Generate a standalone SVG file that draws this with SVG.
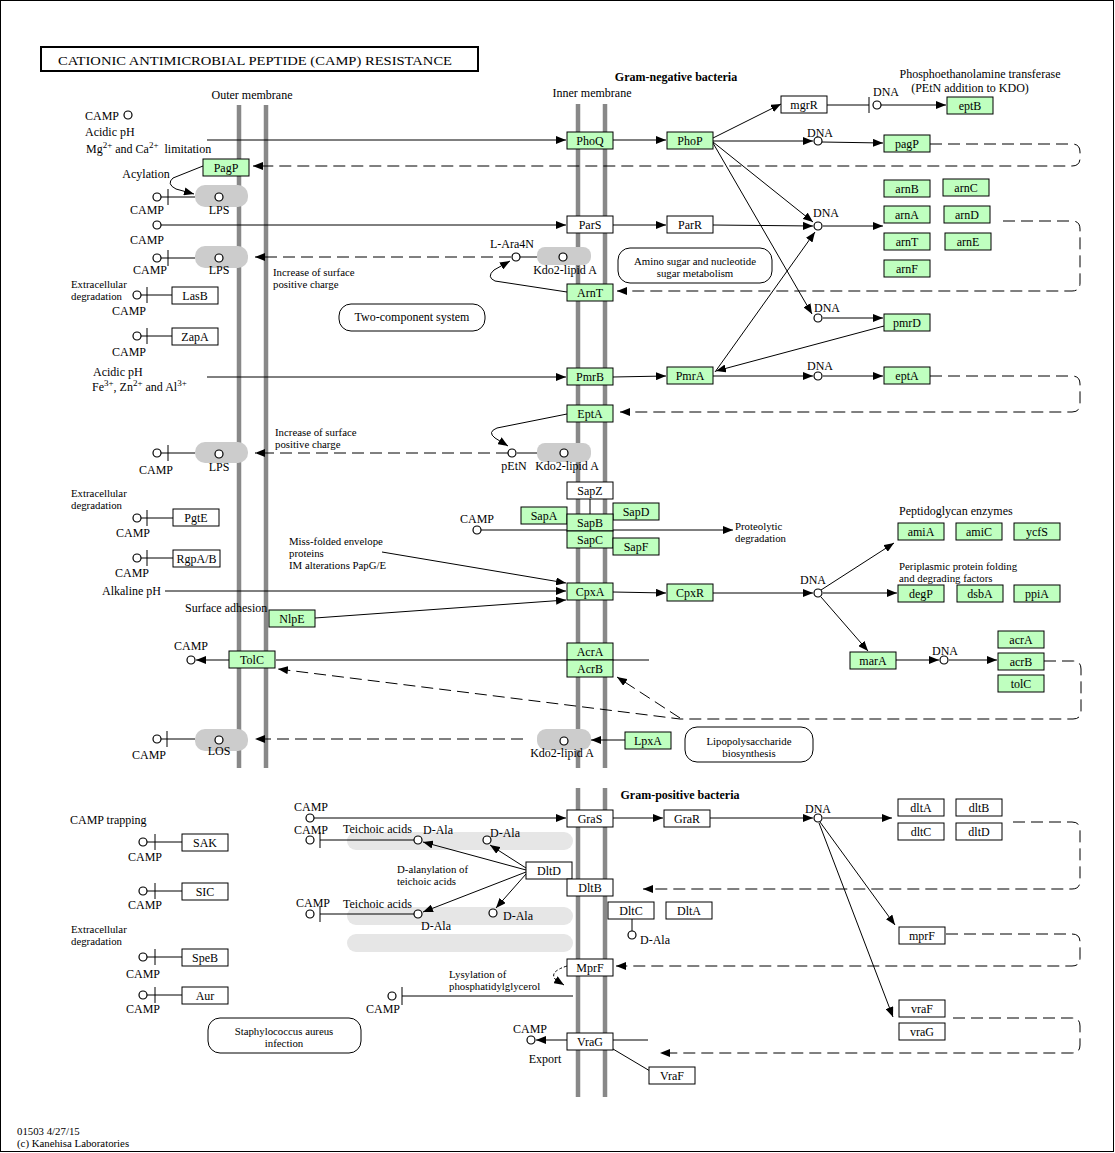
<svg xmlns="http://www.w3.org/2000/svg" width="1115" height="1153" viewBox="0 0 1115 1153">
<style>
.g{fill:#bfffbf;stroke:#000;stroke-width:1}
.w{fill:#fff;stroke:#000;stroke-width:1}
.t{font-family:"Liberation Serif",serif;font-size:12px;fill:#000}
.s{font-size:10.8px}
.c{text-anchor:middle}
.e{text-anchor:end}
.b{font-weight:bold}
.ln{stroke:#000;stroke-width:1;fill:none}
.d{stroke-dasharray:12,6}
.cp{fill:#fff;stroke:#000;stroke-width:1.2}
.m{stroke:#888;stroke-width:4.5}
.lps{fill:#ccc}
.tb{fill:#e6e6e6}
.rb{fill:#fff;stroke:#000;stroke-width:1}
</style>
<defs>
<marker id="a" markerUnits="userSpaceOnUse" markerWidth="11" markerHeight="8" refX="10" refY="4" orient="auto"><path d="M0,0 L10,4 L0,8 z" fill="#000"/></marker>
</defs>
<rect x="0.5" y="0.5" width="1113" height="1151" fill="#fff" stroke="#000" stroke-width="1"/>
<g id="title"><rect x="41" y="47" width="437" height="24" fill="#fff" stroke="#000" stroke-width="2"/><text class="t" x="58" y="64.5" font-size="14" textLength="394" lengthAdjust="spacingAndGlyphs">CATIONIC  ANTIMICROBIAL  PEPTIDE  (CAMP)  RESISTANCE</text></g>

<g id="membranes">
<line class="m" x1="239" y1="105" x2="239" y2="768"/>
<line class="m" x1="266" y1="105" x2="266" y2="768"/>
<line class="m" x1="578" y1="104" x2="578" y2="768"/>
<line class="m" x1="605" y1="104" x2="605" y2="768"/>
<line class="m" x1="578" y1="788" x2="578" y2="1097"/>
<line class="m" x1="605" y1="788" x2="605" y2="1097"/>
</g>

<g id="compounds-bg">
<rect class="lps" x="195" y="185" width="53" height="22" rx="10"/>
<rect class="lps" x="195" y="246" width="53" height="22" rx="10"/>
<rect class="lps" x="195" y="442" width="53" height="21" rx="10"/>
<rect class="lps" x="195" y="729" width="53" height="22" rx="10"/>
<rect class="lps" x="537" y="247" width="54" height="18" rx="8"/>
<rect class="lps" x="537" y="443" width="54" height="19" rx="8"/>
<rect class="lps" x="537" y="729" width="54" height="21" rx="9"/>
<rect class="tb" x="347" y="832" width="226" height="18" rx="9"/>
<rect class="tb" x="347" y="907" width="226" height="18" rx="9"/>
<rect class="tb" x="347" y="934" width="226" height="18" rx="9"/>
</g>

<g id="maps">
<rect class="rb" x="339" y="304" width="146" height="27" rx="12"/>
<rect class="rb" x="618" y="248" width="154" height="35" rx="12"/>
<rect class="rb" x="685" y="727" width="128" height="35" rx="12"/>
<rect class="rb" x="208" y="1018" width="153" height="35" rx="12"/>
</g>

<g id="connectors">
<line class="ln" x1="207" y1="140" x2="566" y2="140" marker-end="url(#a)"/>
<line class="ln" x1="613" y1="140" x2="666" y2="140" marker-end="url(#a)"/>
<line class="ln" x1="713" y1="138" x2="781" y2="104" marker-end="url(#a)"/>
<line class="ln" x1="713" y1="141" x2="813" y2="141" marker-end="url(#a)"/>
<line class="ln" x1="822" y1="142" x2="883" y2="143" marker-end="url(#a)"/>
<line class="ln" x1="713" y1="142" x2="813" y2="222" marker-end="url(#a)"/>
<line class="ln" x1="713" y1="143" x2="812" y2="314" marker-end="url(#a)"/>
<line class="ln" x1="827" y1="105" x2="869" y2="105"/>
<line class="ln" x1="869" y1="97" x2="869" y2="113"/>
<line class="ln" x1="881" y1="105" x2="946" y2="105" marker-end="url(#a)"/>
<path class="ln d" d="M930,144 H1072 Q1080,144 1080,152 V158 Q1080,166 1072,166 H253" marker-end="url(#a)"/>
<path class="ln" d="M203,166 L173,178 Q166,184 176,189 L194,194" marker-end="url(#a)"/>
<line class="ln" x1="161" y1="225" x2="566" y2="225" marker-end="url(#a)"/>
<line class="ln" x1="613" y1="225" x2="666" y2="225" marker-end="url(#a)"/>
<line class="ln" x1="713" y1="225" x2="813" y2="226" marker-end="url(#a)"/>
<line class="ln" x1="823" y1="226" x2="883" y2="226" marker-end="url(#a)"/>
<path class="ln d" d="M1003,221 H1072 Q1080,221 1080,229 V283 Q1080,291 1072,291 H617" marker-end="url(#a)"/>
<path class="ln" d="M567,292 L495,281 Q486,277 494,270 L510,261" marker-end="url(#a)"/>
<path class="ln d" d="M511,257 H255" marker-end="url(#a)"/>
<line class="ln" x1="520" y1="257" x2="537" y2="257"/>
<line class="ln" x1="207" y1="377" x2="566" y2="377" marker-end="url(#a)"/>
<line class="ln" x1="613" y1="377" x2="666" y2="376" marker-end="url(#a)"/>
<line class="ln" x1="713" y1="376" x2="813" y2="376" marker-end="url(#a)"/>
<line class="ln" x1="823" y1="376" x2="883" y2="376" marker-end="url(#a)"/>
<line class="ln" x1="715" y1="372" x2="815" y2="232" marker-end="url(#a)"/>
<line class="ln" x1="884" y1="326" x2="716" y2="371" marker-end="url(#a)"/>
<line class="ln" x1="823" y1="318" x2="883" y2="318" marker-end="url(#a)"/>
<path class="ln d" d="M930,376 H1072 Q1080,376 1080,384 V404 Q1080,412 1072,412 H620" marker-end="url(#a)"/>
<path class="ln" d="M567,414 L497,428 Q487,432 495,438 L508,446" marker-end="url(#a)"/>
<line class="ln" x1="517" y1="453" x2="537" y2="453"/>
<path class="ln d" d="M508,453 H255" marker-end="url(#a)"/>
<line class="ln" x1="481" y1="530" x2="733" y2="530" marker-end="url(#a)"/>
<line class="ln" x1="590" y1="498" x2="590" y2="514"/>
<line class="ln" x1="382" y1="552" x2="566" y2="583" marker-end="url(#a)"/>
<line class="ln" x1="165" y1="591" x2="566" y2="591" marker-end="url(#a)"/>
<line class="ln" x1="315" y1="618" x2="566" y2="600" marker-end="url(#a)"/>
<line class="ln" x1="613" y1="592" x2="666" y2="593" marker-end="url(#a)"/>
<line class="ln" x1="713" y1="593" x2="813" y2="593" marker-end="url(#a)"/>
<line class="ln" x1="823" y1="593" x2="897" y2="593" marker-end="url(#a)"/>
<line class="ln" x1="821" y1="590" x2="894" y2="543" marker-end="url(#a)"/>
<line class="ln" x1="821" y1="597" x2="868" y2="651" marker-end="url(#a)"/>
<line class="ln" x1="896" y1="660" x2="939" y2="660" marker-end="url(#a)"/>
<line class="ln" x1="949" y1="660" x2="997" y2="660" marker-end="url(#a)"/>
<path class="ln d" d="M1044,661 H1073 Q1081,661 1081,669 V711 Q1081,719 1073,719 H680 L278,669" marker-end="url(#a)"/>
<path class="ln d" d="M680,718 L617,677" marker-end="url(#a)"/>
<line class="ln" x1="229" y1="660" x2="196" y2="660" marker-end="url(#a)"/>
<line class="ln" x1="276" y1="660" x2="649" y2="660"/>
<line class="ln" x1="625" y1="740" x2="591" y2="740" marker-end="url(#a)"/>
<path class="ln d" d="M523,739 H255" marker-end="url(#a)"/>
<line class="ln" x1="161" y1="197" x2="195" y2="197"/><line class="ln" x1="168" y1="189" x2="168" y2="205"/>
<line class="ln" x1="161" y1="258" x2="195" y2="258"/><line class="ln" x1="168" y1="250" x2="168" y2="266"/>
<line class="ln" x1="161" y1="453" x2="195" y2="453"/><line class="ln" x1="168" y1="445" x2="168" y2="461"/>
<line class="ln" x1="161" y1="739" x2="195" y2="739"/><line class="ln" x1="167" y1="731" x2="167" y2="747"/>
<line class="ln" x1="141" y1="295" x2="172" y2="295"/><line class="ln" x1="147" y1="287" x2="147" y2="303"/>
<line class="ln" x1="141" y1="336" x2="172" y2="336"/><line class="ln" x1="147" y1="328" x2="147" y2="344"/>
<line class="ln" x1="141" y1="518" x2="173" y2="518"/><line class="ln" x1="147" y1="510" x2="147" y2="526"/>
<line class="ln" x1="141" y1="558" x2="173" y2="558"/><line class="ln" x1="147" y1="550" x2="147" y2="566"/>
<line class="ln" x1="314" y1="818" x2="566" y2="818" marker-end="url(#a)"/>
<line class="ln" x1="613" y1="818" x2="663" y2="818" marker-end="url(#a)"/>
<line class="ln" x1="710" y1="818" x2="813" y2="818" marker-end="url(#a)"/>
<line class="ln" x1="823" y1="818" x2="892" y2="818" marker-end="url(#a)"/>
<line class="ln" x1="820" y1="822" x2="895" y2="925" marker-end="url(#a)"/>
<line class="ln" x1="819" y1="823" x2="893" y2="1017" marker-end="url(#a)"/>
<path class="ln d" d="M1013,822 H1072 Q1080,822 1080,830 V881 Q1080,889 1072,889 H643" marker-end="url(#a)"/>
<path class="ln d" d="M946,934 H1072 Q1080,934 1080,942 V958 Q1080,966 1072,966 H616" marker-end="url(#a)"/>
<path class="ln d" d="M953,1018 H1072 Q1080,1018 1080,1026 V1045 Q1080,1053 1072,1053 H660" marker-end="url(#a)"/>
<line class="ln" x1="320" y1="840" x2="414" y2="840"/><line class="ln" x1="320" y1="832" x2="320" y2="848"/>
<line class="ln" x1="320" y1="914" x2="414" y2="914"/><line class="ln" x1="320" y1="906" x2="320" y2="922"/>
<line class="ln" x1="526" y1="870" x2="423" y2="842" marker-end="url(#a)"/>
<line class="ln" x1="526" y1="868" x2="490" y2="845" marker-end="url(#a)"/>
<line class="ln" x1="526" y1="872" x2="423" y2="912" marker-end="url(#a)"/>
<line class="ln" x1="526" y1="874" x2="496" y2="908" marker-end="url(#a)"/>
<line class="ln" x1="632" y1="918" x2="632" y2="931"/>
<path class="ln" d="M567,966 Q548,972 556,980 L564,985" stroke-dasharray="3,2" marker-end="url(#a)"/>
<line class="ln" x1="402" y1="996" x2="573" y2="996"/><line class="ln" x1="402" y1="987" x2="402" y2="1005"/>
<line class="ln" x1="567" y1="1040" x2="536" y2="1040" marker-end="url(#a)"/>
<line class="ln" x1="613" y1="1040" x2="648" y2="1040"/>
<line class="ln" x1="613" y1="1049" x2="650" y2="1071"/>
<line class="ln" x1="147" y1="842" x2="182" y2="842"/><line class="ln" x1="155" y1="834" x2="155" y2="850"/>
<line class="ln" x1="147" y1="891" x2="182" y2="891"/><line class="ln" x1="155" y1="883" x2="155" y2="899"/>
<line class="ln" x1="147" y1="957" x2="182" y2="957"/><line class="ln" x1="155" y1="949" x2="155" y2="965"/>
<line class="ln" x1="147" y1="995" x2="182" y2="995"/><line class="ln" x1="155" y1="987" x2="155" y2="1003"/>
</g>

<g id="nodes">
<g id="PagP"><rect class="g" x="203" y="159" width="46" height="17"/><text class="t c" x="226" y="171.5">PagP</text></g>
<g id="PhoQ"><rect class="g" x="567" y="132" width="46" height="17"/><text class="t c" x="590" y="144.5">PhoQ</text></g>
<g id="PhoP"><rect class="g" x="667" y="132" width="46" height="17"/><text class="t c" x="690" y="144.5">PhoP</text></g>
<g id="mgrR"><rect class="w" x="781" y="96" width="46" height="17"/><text class="t c" x="804" y="108.5">mgrR</text></g>
<g id="eptB"><rect class="g" x="947" y="97" width="46" height="17"/><text class="t c" x="970" y="109.5">eptB</text></g>
<g id="pagP"><rect class="g" x="884" y="135" width="46" height="17"/><text class="t c" x="907" y="147.5">pagP</text></g>
<g id="arnB"><rect class="g" x="884" y="180" width="46" height="17"/><text class="t c" x="907" y="192.5">arnB</text></g>
<g id="arnC"><rect class="g" x="943" y="179" width="46" height="17"/><text class="t c" x="966" y="191.5">arnC</text></g>
<g id="arnA"><rect class="g" x="884" y="206" width="46" height="17"/><text class="t c" x="907" y="218.5">arnA</text></g>
<g id="arnD"><rect class="g" x="944" y="206" width="46" height="17"/><text class="t c" x="967" y="218.5">arnD</text></g>
<g id="arnT"><rect class="g" x="884" y="233" width="46" height="17"/><text class="t c" x="907" y="245.5">arnT</text></g>
<g id="arnE"><rect class="g" x="945" y="233" width="46" height="17"/><text class="t c" x="968" y="245.5">arnE</text></g>
<g id="arnF"><rect class="g" x="884" y="260" width="46" height="17"/><text class="t c" x="907" y="272.5">arnF</text></g>
<g id="ParS"><rect class="w" x="567" y="216" width="46" height="17"/><text class="t c" x="590" y="228.5">ParS</text></g>
<g id="ParR"><rect class="w" x="667" y="216" width="46" height="17"/><text class="t c" x="690" y="228.5">ParR</text></g>
<g id="ArnT"><rect class="g" x="567" y="284" width="46" height="17"/><text class="t c" x="590" y="296.5">ArnT</text></g>
<g id="LasB"><rect class="w" x="172" y="287" width="46" height="17"/><text class="t c" x="195" y="299.5">LasB</text></g>
<g id="ZapA"><rect class="w" x="172" y="328" width="46" height="17"/><text class="t c" x="195" y="340.5">ZapA</text></g>
<g id="pmrD"><rect class="g" x="884" y="314" width="46" height="17"/><text class="t c" x="907" y="326.5">pmrD</text></g>
<g id="PmrB"><rect class="g" x="567" y="368" width="46" height="17"/><text class="t c" x="590" y="380.5">PmrB</text></g>
<g id="PmrA"><rect class="g" x="667" y="367" width="46" height="17"/><text class="t c" x="690" y="379.5">PmrA</text></g>
<g id="eptA"><rect class="g" x="884" y="367" width="46" height="17"/><text class="t c" x="907" y="379.5">eptA</text></g>
<g id="EptA"><rect class="g" x="567" y="405" width="46" height="17"/><text class="t c" x="590" y="417.5">EptA</text></g>
<g id="SapZ"><rect class="w" x="567" y="482" width="46" height="17"/><text class="t c" x="590" y="494.5">SapZ</text></g>
<g id="SapA"><rect class="g" x="521" y="507" width="46" height="17"/><text class="t c" x="544" y="519.5">SapA</text></g>
<g id="SapD"><rect class="g" x="613" y="503" width="46" height="17"/><text class="t c" x="636" y="515.5">SapD</text></g>
<g id="SapB"><rect class="g" x="567" y="514" width="46" height="17"/><text class="t c" x="590" y="526.5">SapB</text></g>
<g id="SapC"><rect class="g" x="567" y="531" width="46" height="17"/><text class="t c" x="590" y="543.5">SapC</text></g>
<g id="SapF"><rect class="g" x="613" y="538" width="46" height="17"/><text class="t c" x="636" y="550.5">SapF</text></g>
<g id="PgtE"><rect class="w" x="173" y="509" width="46" height="17"/><text class="t c" x="196" y="521.5">PgtE</text></g>
<g id="RgpAB"><rect class="w" x="173" y="550" width="47" height="17"/><text class="t c" x="196.5" y="562.5">RgpA/B</text></g>
<g id="amiA"><rect class="g" x="898" y="523" width="46" height="17"/><text class="t c" x="921" y="535.5">amiA</text></g>
<g id="amiC"><rect class="g" x="956" y="523" width="46" height="17"/><text class="t c" x="979" y="535.5">amiC</text></g>
<g id="ycfS"><rect class="g" x="1014" y="523" width="46" height="17"/><text class="t c" x="1037" y="535.5">ycfS</text></g>
<g id="CpxA"><rect class="g" x="567" y="583" width="46" height="17"/><text class="t c" x="590" y="595.5">CpxA</text></g>
<g id="CpxR"><rect class="g" x="667" y="584" width="46" height="17"/><text class="t c" x="690" y="596.5">CpxR</text></g>
<g id="degP"><rect class="g" x="898" y="585" width="46" height="17"/><text class="t c" x="921" y="597.5">degP</text></g>
<g id="dsbA"><rect class="g" x="957" y="585" width="46" height="17"/><text class="t c" x="980" y="597.5">dsbA</text></g>
<g id="ppiA"><rect class="g" x="1014" y="585" width="46" height="17"/><text class="t c" x="1037" y="597.5">ppiA</text></g>
<g id="NlpE"><rect class="g" x="269" y="610" width="46" height="17"/><text class="t c" x="292" y="622.5">NlpE</text></g>
<g id="TolC"><rect class="g" x="229" y="651" width="46" height="17"/><text class="t c" x="252" y="663.5">TolC</text></g>
<g id="AcrA"><rect class="g" x="567" y="643" width="46" height="17"/><text class="t c" x="590" y="655.5">AcrA</text></g>
<g id="AcrB"><rect class="g" x="567" y="660" width="46" height="17"/><text class="t c" x="590" y="672.5">AcrB</text></g>
<g id="marA"><rect class="g" x="850" y="652" width="46" height="17"/><text class="t c" x="873" y="664.5">marA</text></g>
<g id="acrA"><rect class="g" x="998" y="631" width="46" height="17"/><text class="t c" x="1021" y="643.5">acrA</text></g>
<g id="acrB"><rect class="g" x="998" y="653" width="46" height="17"/><text class="t c" x="1021" y="665.5">acrB</text></g>
<g id="tolC"><rect class="g" x="998" y="675" width="46" height="17"/><text class="t c" x="1021" y="687.5">tolC</text></g>
<g id="LpxA"><rect class="g" x="625" y="732" width="46" height="17"/><text class="t c" x="648" y="744.5">LpxA</text></g>
<g id="GraS"><rect class="w" x="567" y="810" width="46" height="17"/><text class="t c" x="590" y="822.5">GraS</text></g>
<g id="GraR"><rect class="w" x="664" y="810" width="46" height="17"/><text class="t c" x="687" y="822.5">GraR</text></g>
<g id="dltA"><rect class="w" x="898" y="799" width="46" height="17"/><text class="t c" x="921" y="811.5">dltA</text></g>
<g id="dltB"><rect class="w" x="956" y="799" width="46" height="17"/><text class="t c" x="979" y="811.5">dltB</text></g>
<g id="dltC"><rect class="w" x="898" y="823" width="46" height="17"/><text class="t c" x="921" y="835.5">dltC</text></g>
<g id="dltD"><rect class="w" x="956" y="823" width="46" height="17"/><text class="t c" x="979" y="835.5">dltD</text></g>
<g id="DltD"><rect class="w" x="526" y="862" width="46" height="17"/><text class="t c" x="549" y="874.5">DltD</text></g>
<g id="DltB"><rect class="w" x="567" y="879" width="46" height="17"/><text class="t c" x="590" y="891.5">DltB</text></g>
<g id="DltC"><rect class="w" x="608" y="902" width="46" height="17"/><text class="t c" x="631" y="914.5">DltC</text></g>
<g id="DltA"><rect class="w" x="666" y="902" width="46" height="17"/><text class="t c" x="689" y="914.5">DltA</text></g>
<g id="mprF"><rect class="w" x="899" y="927" width="46" height="17"/><text class="t c" x="922" y="939.5">mprF</text></g>
<g id="MprF"><rect class="w" x="567" y="959" width="46" height="17"/><text class="t c" x="590" y="971.5">MprF</text></g>
<g id="vraF"><rect class="w" x="899" y="1000" width="46" height="17"/><text class="t c" x="922" y="1012.5">vraF</text></g>
<g id="vraG"><rect class="w" x="899" y="1023" width="46" height="17"/><text class="t c" x="922" y="1035.5">vraG</text></g>
<g id="VraG"><rect class="w" x="567" y="1033" width="46" height="17"/><text class="t c" x="590" y="1045.5">VraG</text></g>
<g id="VraF"><rect class="w" x="649" y="1067" width="46" height="17"/><text class="t c" x="672" y="1079.5">VraF</text></g>
<g id="SAK"><rect class="w" x="182" y="834" width="46" height="17"/><text class="t c" x="205" y="846.5">SAK</text></g>
<g id="SIC"><rect class="w" x="182" y="883" width="46" height="17"/><text class="t c" x="205" y="895.5">SIC</text></g>
<g id="SpeB"><rect class="w" x="182" y="949" width="46" height="17"/><text class="t c" x="205" y="961.5">SpeB</text></g>
<g id="Aur"><rect class="w" x="182" y="987" width="46" height="17"/><text class="t c" x="205" y="999.5">Aur</text></g>
</g>

<g id="circles">
<circle class="cp" cx="128" cy="115" r="4"/>
<circle class="cp" cx="157" cy="197" r="4"/>
<circle class="cp" cx="219" cy="197" r="4"/>
<circle class="cp" cx="157" cy="225" r="4"/>
<circle class="cp" cx="157" cy="258" r="4"/>
<circle class="cp" cx="219" cy="258" r="4"/>
<circle class="cp" cx="137" cy="295" r="4"/>
<circle class="cp" cx="137" cy="336" r="4"/>
<circle class="cp" cx="157" cy="453" r="4"/>
<circle class="cp" cx="219" cy="454" r="4"/>
<circle class="cp" cx="137" cy="518" r="4"/>
<circle class="cp" cx="137" cy="558" r="4"/>
<circle class="cp" cx="191" cy="660" r="4"/>
<circle class="cp" cx="157" cy="739" r="4"/>
<circle class="cp" cx="219" cy="740" r="4"/>
<circle class="cp" cx="516" cy="257" r="4"/>
<circle class="cp" cx="563" cy="257" r="4"/>
<circle class="cp" cx="512" cy="453" r="4"/>
<circle class="cp" cx="564" cy="453" r="4"/>
<circle class="cp" cx="477" cy="530" r="4"/>
<circle class="cp" cx="564" cy="741" r="4"/>
<circle class="cp" cx="877" cy="105" r="4"/>
<circle class="cp" cx="818" cy="141" r="4"/>
<circle class="cp" cx="818" cy="226" r="4"/>
<circle class="cp" cx="818" cy="318" r="4"/>
<circle class="cp" cx="818" cy="376" r="4"/>
<circle class="cp" cx="818" cy="593" r="4"/>
<circle class="cp" cx="944" cy="660" r="4"/>
<circle class="cp" cx="818" cy="818" r="4"/>
<circle class="cp" cx="310" cy="818" r="4"/>
<circle class="cp" cx="310" cy="840" r="4"/>
<circle class="cp" cx="310" cy="914" r="4"/>
<circle class="cp" cx="418" cy="840" r="4"/>
<circle class="cp" cx="487" cy="840" r="4"/>
<circle class="cp" cx="418" cy="914" r="4"/>
<circle class="cp" cx="493" cy="913" r="4"/>
<circle class="cp" cx="632" cy="935" r="4"/>
<circle class="cp" cx="392" cy="996" r="4"/>
<circle class="cp" cx="531" cy="1040" r="4"/>
<circle class="cp" cx="143" cy="842" r="4"/>
<circle class="cp" cx="143" cy="891" r="4"/>
<circle class="cp" cx="143" cy="957" r="4"/>
<circle class="cp" cx="143" cy="995" r="4"/>
</g>

<g id="labels">
<text class="t c" x="252" y="99">Outer membrane</text>
<text class="t c" x="592" y="97">Inner membrane</text>
<text class="t c b" x="676" y="81">Gram-negative bacteria</text>
<text class="t c" x="980" y="78">Phosphoethanolamine transferase</text>
<text class="t c" x="970" y="92">(PEtN addition to KDO)</text>
<text class="t c" x="886" y="96">DNA</text>
<text class="t c" x="820" y="137">DNA</text>
<text class="t c" x="826" y="217">DNA</text>
<text class="t c" x="827" y="312">DNA</text>
<text class="t c" x="820" y="370">DNA</text>
<text class="t c" x="813" y="584">DNA</text>
<text class="t c" x="945" y="655">DNA</text>
<text class="t c" x="818" y="813">DNA</text>
<text class="t" x="85" y="120">CAMP</text>
<text class="t" x="85" y="136">Acidic pH</text>
<text class="t" x="86" y="153" xml:space="preserve">Mg<tspan font-size="9" dy="-5">2+</tspan><tspan dy="5"> and Ca</tspan><tspan font-size="9" dy="-5">2+</tspan><tspan dy="5">  limitation</tspan></text>
<text class="t c" x="146" y="178">Acylation</text>
<text class="t c" x="147" y="214">CAMP</text>
<text class="t c" x="219" y="214">LPS</text>
<text class="t c" x="147" y="244">CAMP</text>
<text class="t c" x="150" y="274">CAMP</text>
<text class="t c" x="219" y="274">LPS</text>
<text class="t s" x="273" y="275.5">Increase of surface</text>
<text class="t s" x="273" y="287.5">positive charge</text>
<text class="t s" x="71" y="287.5">Extracellular</text>
<text class="t s" x="71" y="299.5">degradation</text>
<text class="t c" x="129" y="315">CAMP</text>
<text class="t c" x="129" y="356">CAMP</text>
<text class="t" x="93" y="376">Acidic pH</text>
<text class="t" x="92" y="391">Fe<tspan font-size="9" dy="-5">3+</tspan><tspan dy="5">, Zn</tspan><tspan font-size="9" dy="-5">2+</tspan><tspan dy="5"> and Al</tspan><tspan font-size="9" dy="-5">3+</tspan></text>
<text class="t s" x="275" y="435.5">Increase of surface</text>
<text class="t s" x="275" y="447.5">positive charge</text>
<text class="t c" x="156" y="474">CAMP</text>
<text class="t c" x="219" y="471">LPS</text>
<text class="t s" x="71" y="496.5">Extracellular</text>
<text class="t s" x="71" y="508.5">degradation</text>
<text class="t c" x="133" y="537">CAMP</text>
<text class="t c" x="132" y="577">CAMP</text>
<text class="t s" x="289" y="544.5">Miss-folded envelope</text>
<text class="t s" x="289" y="556.5">proteins</text>
<text class="t s" x="289" y="568.5">IM alterations PapG/E</text>
<text class="t e" x="161" y="595">Alkaline pH</text>
<text class="t" x="185" y="612">Surface adhesion</text>
<text class="t c" x="191" y="650">CAMP</text>
<text class="t c" x="149" y="759">CAMP</text>
<text class="t c" x="219" y="755">LOS</text>
<text class="t c" x="412" y="321">Two-component system</text>
<text class="t s c" x="695" y="264.5">Amino sugar and nucleotide</text>
<text class="t s c" x="695" y="276.5">sugar metabolism</text>
<text class="t c" x="512" y="248">L-Ara4N</text>
<text class="t c" x="565" y="274">Kdo2-lipid A</text>
<text class="t c" x="514" y="470">pEtN</text>
<text class="t c" x="567" y="470">Kdo2-lipid A</text>
<text class="t c" x="477" y="523">CAMP</text>
<text class="t s" x="735" y="529.5">Proteolytic</text>
<text class="t s" x="735" y="541.5">degradation</text>
<text class="t" x="899" y="515">Peptidoglycan enzymes</text>
<text class="t s" x="899" y="569.5">Periplasmic protein folding</text>
<text class="t s" x="899" y="581.5">and degrading factors</text>
<text class="t c" x="562" y="757">Kdo2-lipid A</text>
<text class="t s c" x="749" y="744.5">Lipopolysaccharide</text>
<text class="t s c" x="749" y="756.5">biosynthesis</text>
<text class="t c b" x="680" y="799">Gram-positive bacteria</text>
<text class="t c" x="311" y="811">CAMP</text>
<text class="t c" x="311" y="834">CAMP</text>
<text class="t" x="343" y="833">Teichoic acids</text>
<text class="t" x="423" y="834">D-Ala</text>
<text class="t" x="490" y="837">D-Ala</text>
<text class="t s" x="397" y="872.5">D-alanylation of</text>
<text class="t s" x="397" y="884.5">teichoic acids</text>
<text class="t c" x="313" y="907">CAMP</text>
<text class="t" x="343" y="908">Teichoic acids</text>
<text class="t" x="421" y="930">D-Ala</text>
<text class="t" x="503" y="920">D-Ala</text>
<text class="t" x="640" y="944">D-Ala</text>
<text class="t s" x="449" y="977.5">Lysylation of</text>
<text class="t s" x="449" y="989.5">phosphatidylglycerol</text>
<text class="t c" x="383" y="1013">CAMP</text>
<text class="t c" x="530" y="1033">CAMP</text>
<text class="t c" x="545" y="1063">Export</text>
<text class="t" x="70" y="824">CAMP trapping</text>
<text class="t c" x="145" y="861">CAMP</text>
<text class="t c" x="145" y="909">CAMP</text>
<text class="t s" x="71" y="932.5">Extracellular</text>
<text class="t s" x="71" y="944.5">degradation</text>
<text class="t c" x="143" y="978">CAMP</text>
<text class="t c" x="143" y="1013">CAMP</text>
<text class="t s c" x="284" y="1034.5">Staphylococcus aureus</text>
<text class="t s c" x="284" y="1046.5">infection</text>
<text class="t s" x="17" y="1134.5">01503 4/27/15</text>
<text class="t s" x="17" y="1146.5">(c) Kanehisa Laboratories</text>
</g>
</svg>
